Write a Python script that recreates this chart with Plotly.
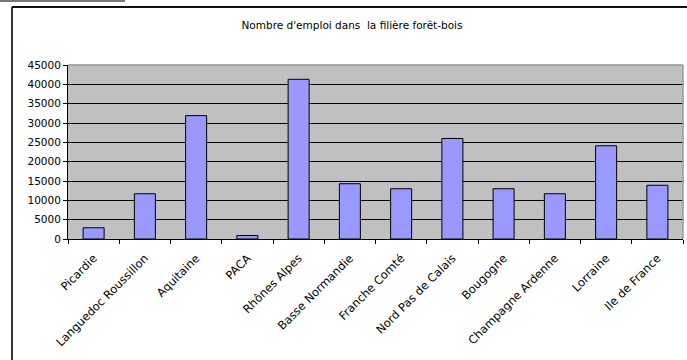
import plotly.graph_objects as go

regions = ["Picardie", "Languedoc Roussillon", "Aquitaine", "PACA", "Rhônes Alpes",
           "Basse Normandie", "Franche Comté", "Nord Pas de Calais", "Bougogne",
           "Champagne Ardenne", "Lorraine", "Ile de France"]
emplois = [2900, 11700, 31900, 900, 41300, 14300, 13000, 26000, 13000, 11700, 24100, 13900]
y_ticks = [0, 5000, 10000, 15000, 20000, 25000, 30000, 35000, 40000, 45000]

W, H = 687, 360
L, R, T, B = 68, 683, 65, 239  # plot area in pixels


def px(x):
    return (x - L) / (R - L)


def py(y):
    return (B - y) / (B - T)


font = dict(family="DejaVu Sans, sans-serif", size=10.5, color="#000000")
xfont = dict(family="DejaVu Sans, sans-serif", size=11.5, color="#000000")

fig = go.Figure(go.Bar(
    x=regions, y=emplois,
    marker=dict(color="#9999FF", line=dict(color="#000000", width=1)),
))

fig.update_layout(
    width=W, height=H,
    margin=dict(l=L, r=W - R, t=T, b=H - B),
    paper_bgcolor="#FFFFFF", plot_bgcolor="#C0C0C0",
    bargap=0.59, showlegend=False, font=font,
    title=dict(text="Nombre d'emploi dans  la filière forêt-bois",
               x=352 / W, xanchor="center", y=1 - 25 / H, yanchor="middle",
               font=dict(family="DejaVu Sans, sans-serif", size=10.5, color="#000000")),
    xaxis=dict(type="category", tickson="boundaries", ticks="outside", ticklen=4,
               tickcolor="#000000", showline=True, linecolor="#000000", linewidth=1,
               showgrid=False, tickangle=-45, tickfont=xfont, ticklabelstandoff=7,
               fixedrange=True),
    yaxis=dict(range=[0, 45000], tickvals=y_ticks, tickformat="d", ticks="outside",
               ticklen=4, tickcolor="#000000", showline=True, linecolor="#000000",
               linewidth=1, gridcolor="#000000", gridwidth=1, tickfont=font,
               zeroline=False, fixedrange=True),
)

shapes = [
    # chart frame: left and top edges
    dict(type="line", xref="paper", yref="paper", x0=px(12), x1=px(12), y0=py(7), y1=py(362),
         line=dict(color="#333333", width=2)),
    dict(type="line", xref="paper", yref="paper", x0=px(12), x1=px(690), y0=py(7), y1=py(7),
         line=dict(color="#111111", width=2)),
    # short rule at the top-left corner
    dict(type="line", xref="paper", yref="paper", x0=px(-2), x1=px(125), y0=py(1), y1=py(1),
         line=dict(color="#777777", width=2)),
    # plot area border on top and right
    dict(type="line", xref="paper", yref="paper", x0=0, x1=1, y0=1, y1=1,
         line=dict(color="#999999", width=1.5)),
    dict(type="line", xref="paper", yref="paper", x0=1, x1=1, y0=0, y1=1,
         line=dict(color="#999999", width=1.5)),
]
fig.update_layout(shapes=shapes)

fig.write_html("out.html", config={"displayModeBar": False})
